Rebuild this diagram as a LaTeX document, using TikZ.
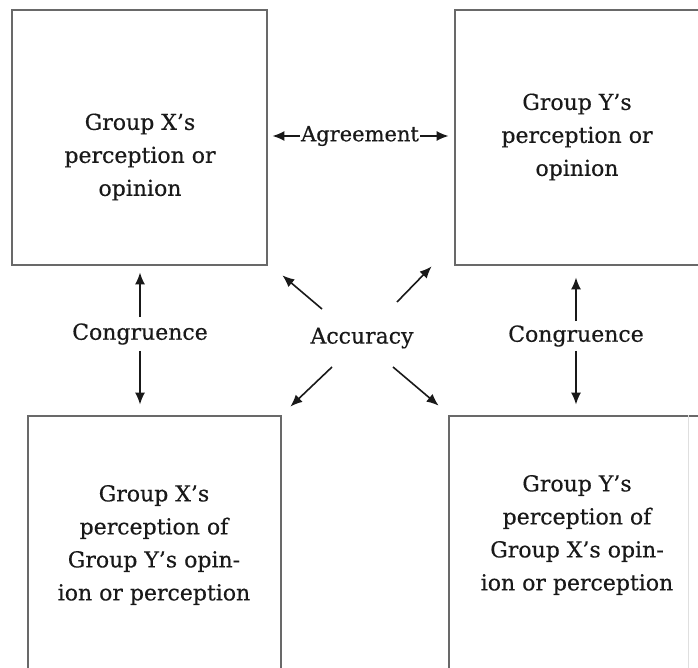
\documentclass[tikz,border=0pt]{standalone}
\usepackage{fontspec}
\setmainfont{DejaVu Serif}[FakeBold=0.4]
\usetikzlibrary{arrows.meta,calc}
\definecolor{boxgray}{RGB}{105,105,105}
\definecolor{ink}{RGB}{25,25,25}
\begin{document}
\begin{tikzpicture}[x=1pt,y=1pt,
  box/.style={draw=boxgray,line width=2.8pt,rectangle,inner sep=0pt},
  txt/.style={align=center,text=ink,font=\fontsize{22}{33}\selectfont,inner sep=0pt},
  lbl/.style={text=ink,font=\fontsize{22}{26}\selectfont,inner sep=2pt},
  arr/.style={draw=ink,line width=1.6pt,-{Latex[length=12pt,width=10pt]}}]
\useasboundingbox (0,0) rectangle (698,-668);
\clip (0,0) rectangle (698,-668);
\fill[white] (0,0) rectangle (698,-668);
% boxes
\node[box,minimum width=255pt,minimum height=255pt] (TL) at (139.5,-137.5) {};
\node[box,minimum width=275pt,minimum height=255pt] (TR) at (592.5,-137.5) {};
\node[box,minimum width=253pt,minimum height=300pt] (BL) at (154.5,-566) {};
\node[box,minimum width=281pt,minimum height=300pt] (BR) at (589.5,-566) {};
\draw[gray!25,line width=0.8pt] (BR.north west) ++(241,0) coordinate (brr) -- (brr |- BR.south);
% texts
\node[txt] (TLt) at (140,-157) {Group X’s\\perception or\\opinion};
\node[txt] (TRt) at (577,-137) {Group Y’s\\perception or\\opinion};
\node[txt] (BLt) at (154,-545) {Group X’s\\perception of\\Group Y’s opin-\\ion or perception};
\node[txt] (BRt) at (577,-535) {Group Y’s\\perception of\\Group X’s opin-\\ion or perception};
% agreement
\node[lbl,fill=white,inner sep=1pt,font=\fontsize{21}{25}\selectfont] (agr) at (360,-136) {Agreement};
\draw[arr,shorten >=4pt] (agr.west) -- (agr.west -| TL.east);
\draw[arr,shorten >=5pt] (agr.east) -- (agr.east -| TR.west);
% congruence
\node[lbl] (cl) at (140,-334) {Congruence};
\node[lbl] (cr) at (576,-336) {Congruence};
\draw[arr,shorten <=4pt,shorten >=6pt] (cl.north) -- (cl.north |- TL.south);
\draw[arr,shorten <=4pt,shorten >=10pt] (cl.south) -- (cl.south |- BL.north);
\draw[arr,shorten <=2pt,shorten >=11pt] (cr.north) -- (cr.north |- TR.south);
\draw[arr,shorten <=2pt,shorten >=10pt] (cr.south) -- (cr.south |- BR.north);
% accuracy
\node[lbl] (acc) at (362,-338) {Accuracy};
\draw[arr] ($(acc)+(-40,29)$) -- ($(TL.south east)+(14,-9)$);
\draw[arr] ($(acc)+(35,36)$) -- ($(TR.south west)+(-22,0)$);
\draw[arr] ($(acc)+(-30,-29)$) -- ($(BL.north east)+(8,8)$);
\draw[arr] ($(acc)+(31,-29)$) -- ($(BR.north west)+(-9,9)$);
\end{tikzpicture}
\end{document}
